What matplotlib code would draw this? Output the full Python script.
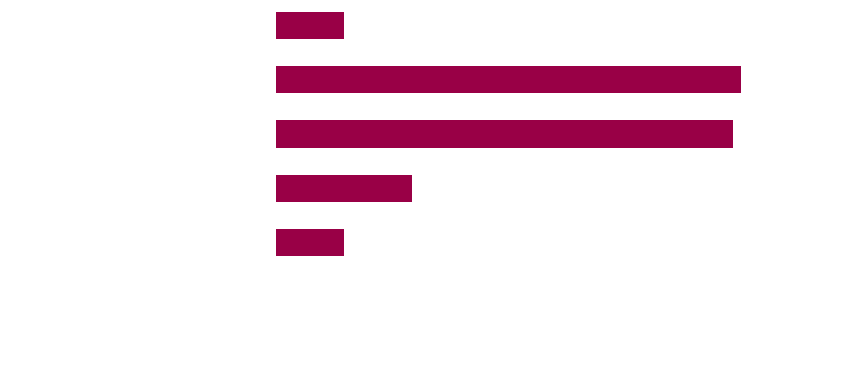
import matplotlib
matplotlib.use("Agg")
import matplotlib.pyplot as plt

categories = ["A", "B", "C", "D", "E"]
values = [1.0, 6.84, 6.72, 2.0, 1.0]
bar_color = "#990046"

W, H = 845, 383
fig = plt.figure(figsize=(W / 100, H / 100), dpi=100)
fig.patch.set_facecolor("white")

# axes placed so that x=0 sits at pixel 276
left_px, right_px = 276, 820
ax = fig.add_axes([left_px / W, 0, (right_px - left_px) / W, 1])
ax.barh(range(len(categories)), values, height=0.5, color=bar_color)
ax.set_xlim(0, 8)
ax.set_ylim(6.59, -0.47)
ax.axis("off")

fig.savefig("out.png", dpi=100, facecolor="white")
